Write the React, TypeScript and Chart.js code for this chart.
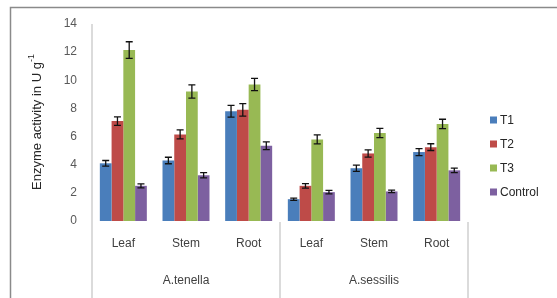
import React, { useEffect, useRef } from "react";
import { Chart, registerables } from "chart.js";
Chart.register(...registerables);

const categories = ["Leaf", "Stem", "Root", "Leaf", "Stem", "Root"];
const groups = ["A.tenella", "A.sessilis"];
const seriesNames = ["T1", "T2", "T3", "Control"];
const t1 = [4.1, 4.3, 7.8, 1.55, 3.75, 4.9];
const t2 = [7.1, 6.15, 7.9, 2.5, 4.8, 5.25];
const t3 = [12.15, 9.2, 9.7, 5.8, 6.25, 6.9];
const control = [2.5, 3.25, 5.35, 2.05, 2.1, 3.6];
const t1Err = [0.2, 0.23, 0.42, 0.08, 0.22, 0.25];
const t2Err = [0.3, 0.32, 0.44, 0.16, 0.26, 0.24];
const t3Err = [0.59, 0.47, 0.44, 0.32, 0.33, 0.33];
const controlErr = [0.14, 0.19, 0.28, 0.12, 0.09, 0.16];
const yMin = 0;
const yMax = 14;
const yStep = 2;
const yTitle = "Enzyme activity in U g";
const yTitleSup = "-1";

const colors = ["#4A7EBB", "#BE4B48", "#98B954", "#7D60A0"];
const FONT = "'Liberation Sans', Arial, sans-serif";

export default function App() {
  const ref = useRef<HTMLCanvasElement | null>(null);
  useEffect(() => {
    const canvas = ref.current;
    if (!canvas) return;
    const values = [t1, t2, t3, control];
    const errs = [t1Err, t2Err, t3Err, controlErr];

    const errorBars = {
      id: "errorBars",
      afterDatasetsDraw(chart: any) {
        const ctx = chart.ctx;
        const y = chart.scales.y;
        ctx.save();
        ctx.strokeStyle = "#111";
        ctx.lineWidth = 1.3;
        chart.data.datasets.forEach((ds: any, i: number) => {
          const meta = chart.getDatasetMeta(i);
          meta.data.forEach((el: any, j: number) => {
            const v = ds.data[j];
            const e = errs[i][j];
            const top = y.getPixelForValue(v + e);
            const bot = y.getPixelForValue(v - e);
            const x = el.x;
            ctx.beginPath();
            ctx.moveTo(x, top);
            ctx.lineTo(x, bot);
            ctx.moveTo(x - 3.5, top);
            ctx.lineTo(x + 3.5, top);
            ctx.moveTo(x - 3.5, bot);
            ctx.lineTo(x + 3.5, bot);
            ctx.stroke();
          });
        });
        ctx.restore();
      },
    };

    const decorations = {
      id: "decorations",
      afterDraw(chart: any) {
        const ctx = chart.ctx;
        const xs = chart.scales.x;
        const area = chart.chartArea;
        ctx.save();
        // outer frame
        ctx.strokeStyle = "#8a8a8a";
        ctx.lineWidth = 1.5;
        ctx.beginPath();
        ctx.moveTo(10.5, 298);
        ctx.lineTo(10.5, 7.5);
        ctx.lineTo(557, 7.5);
        ctx.stroke();

        // axis + separators
        ctx.strokeStyle = "#cfcfcf";
        ctx.lineWidth = 1.5;
        ctx.beginPath();
        ctx.moveTo(area.left, area.top);
        ctx.lineTo(area.left, 298);
        const mid = (xs.getPixelForValue(2) + xs.getPixelForValue(3)) / 2;
        ctx.moveTo(mid, area.bottom + 1);
        ctx.lineTo(mid, 298);
        ctx.moveTo(area.right, area.bottom + 1);
        ctx.lineTo(area.right, 298);
        ctx.stroke();

        // group labels
        ctx.fillStyle = "#404040";
        ctx.font = `12px ${FONT}`;
        ctx.textAlign = "center";
        ctx.textBaseline = "middle";
        groups.forEach((g, gi) => {
          const c =
            (xs.getPixelForValue(gi * 3) + xs.getPixelForValue(gi * 3 + 2)) / 2;
          ctx.fillText(g, c, 281);
        });

        // legend
        ctx.textAlign = "left";
        ctx.font = `12px ${FONT}`;
        seriesNames.forEach((n, i) => {
          const cy = 120 + i * 24;
          ctx.fillStyle = colors[i];
          ctx.fillRect(490, cy - 3.5, 7, 7);
          ctx.fillStyle = "#262626";
          ctx.fillText(n, 500, cy + 0.5);
        });

        // y title
        ctx.translate(37, 122);
        ctx.rotate(-Math.PI / 2);
        ctx.fillStyle = "#262626";
        ctx.font = `13px ${FONT}`;
        const w1 = ctx.measureText(yTitle).width;
        ctx.font = `9px ${FONT}`;
        const w2 = ctx.measureText(yTitleSup).width;
        const total = w1 + w2;
        ctx.textAlign = "left";
        ctx.font = `13px ${FONT}`;
        ctx.fillText(yTitle, -total / 2, 0);
        ctx.font = `9px ${FONT}`;
        ctx.fillText(yTitleSup, -total / 2 + w1, -5);
        ctx.restore();
      },
    };

    const chart = new Chart(canvas, {
      type: "bar",
      data: {
        labels: categories,
        datasets: seriesNames.map((n, i) => ({
          label: n,
          data: values[i],
          backgroundColor: colors[i],
          borderWidth: 0,
          categoryPercentage: 0.75,
          barPercentage: 1.0,
        })),
      },
      options: {
        animation: false,
        responsive: false,
        devicePixelRatio: 1,
        layout: { padding: { left: 0, top: 24, right: 89, bottom: 0 } },
        plugins: { legend: { display: false }, tooltip: { enabled: false } },
        scales: {
          x: {
            grid: { display: false, drawTicks: false },
            border: { display: false },
            ticks: {
              color: "#404040",
              font: { family: FONT, size: 12 },
              padding: 15,
              maxRotation: 0,
              autoSkip: false,
            },
            afterFit(scale: any) {
              scale.height = 77;
            },
          },
          y: {
            min: yMin,
            max: yMax,
            grid: { display: false, drawTicks: false },
            border: { display: false },
            ticks: {
              stepSize: yStep,
              color: "#595959",
              font: { family: FONT, size: 12 },
              padding: 15,
            },
            afterFit(scale: any) {
              scale.width = 92;
            },
          },
        },
      },
      plugins: [errorBars, decorations],
    });
    return () => chart.destroy();
  }, []);

  return (
    <div style={{ position: "absolute", left: 0, top: 0, width: 557, height: 298, background: "#fff" }}>
      <canvas ref={ref} width={557} height={298} style={{ width: 557, height: 298, display: "block" }} />
    </div>
  );
}
